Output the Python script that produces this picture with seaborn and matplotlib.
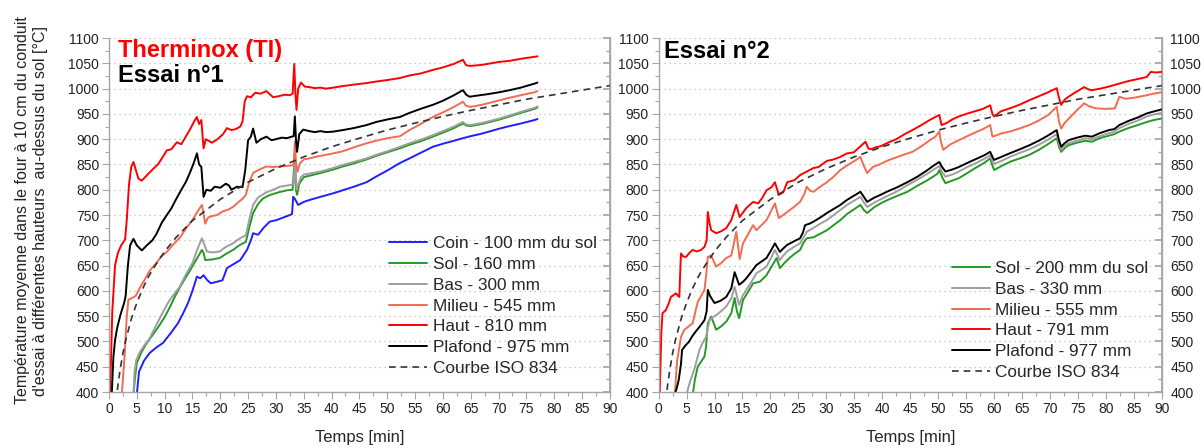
import numpy as np
import pandas as pd
import matplotlib
matplotlib.use("Agg")
import matplotlib.pyplot as plt
from matplotlib.ticker import MultipleLocator
import seaborn as sns

# ---------------- Essai n°1 (left panel) ----------------
t_coin1 = [5, 5.4, 6.3, 7.3, 8.5, 9.7, 11, 12.4, 13.3, 14.2,
           15, 15.8, 16.4, 17, 17.6, 18.3, 19.4, 20.4, 21.2, 22.4,
           23.6, 24.8, 25.5, 25.9, 26.8, 27.8, 28.9, 30.1, 31.3, 32.5,
           32.9, 33.1, 33.4, 34, 35, 36.1, 38, 40.3, 42, 44,
           46.3, 48, 50, 52.3, 54, 56, 58.2, 60, 62, 63.6,
           65, 67, 70.2, 72, 74, 76.5, 77]
T_coin1 = [395, 440, 462, 477, 488, 497, 515, 536, 555, 576,
           600, 628, 625, 631, 622, 615, 618, 621, 645, 653,
           661, 681, 700, 714, 711, 725, 737, 740, 745, 750,
           752, 786, 782, 770, 776, 780, 786, 793, 799, 806,
           815, 826, 838, 853, 862, 873, 885, 891, 897, 902,
           906, 911, 921, 926, 931, 938, 940]

t_sol1 = [4.4, 4.7, 5, 5.8, 6.8, 7.8, 8.9, 10, 11, 11.9,
          12.8, 13.7, 14.6, 15.6, 16.7, 17.0, 17.3, 18.5, 19.9, 21,
          22.3, 23.4, 24.6, 25.2, 25.9, 26.8, 27.7, 29, 30.5, 32,
          33, 33.4, 33.6, 33.8, 34.2, 35, 36.5, 38, 40.3, 42,
          44, 46.3, 48, 50, 52.3, 54, 56, 58.2, 60, 62,
          63.6, 64.2, 65, 67, 70.2, 72, 74, 76.5, 77]
T_sol1 = [395, 430, 457, 478, 497, 512, 529, 548, 569, 590,
          608, 625, 641, 660, 681, 675, 661, 662, 665, 673,
          681, 690, 697, 725, 754, 772, 783, 790, 795, 799,
          800, 870, 800, 790, 812, 825, 829, 833, 840, 846,
          852, 860, 867, 874, 882, 889, 896, 905, 913, 922,
          931, 927, 926, 930, 939, 945, 952, 960, 963]

t_bas1 = [4.4, 4.6, 4.9, 5.5, 6.4, 7.3, 8.4, 9.6, 10.8, 11.8,
          12.7, 13.8, 15, 15.8, 16.7, 17.2, 17.6, 18.6, 19.9, 21,
          22.3, 23.4, 24.6, 25.3, 25.9, 26.8, 28.3, 29.5, 30.7, 31.8,
          32.8, 33.2, 33.45, 33.7, 34, 34.5, 35, 36.5, 38, 40.3,
          42, 44, 46.3, 48, 50, 52.3, 54, 56, 58.2, 60,
          62, 63.6, 64.2, 65, 67, 70.2, 72, 74, 76.5, 77]
T_bas1 = [395, 440, 463, 478, 493, 506, 530, 556, 580, 595,
          608, 632, 655, 680, 704, 690, 678, 676, 678, 687,
          694, 703, 710, 745, 770, 785, 795, 800, 806, 808,
          810, 812, 870, 800, 810, 825, 830, 833, 836, 843,
          849, 855, 862, 869, 876, 885, 892, 899, 908, 916,
          925, 934, 929, 928, 932, 941, 947, 954, 962, 965]

t_mil1 = [2.3, 2.8, 3.2, 3.5, 4.0, 4.8, 5.5, 6.3, 7.4, 8.5,
          9.4, 10.4, 11.4, 12.8, 13.5, 14, 15, 15.8, 16.4, 16.7,
          17.0, 17.3, 17.8, 18.5, 19.4, 20.4, 21.3, 22.3, 23.2, 24,
          24.6, 25.2, 25.9, 27, 28.3, 29.5, 30.7, 31.8, 32.8, 33.2,
          33.4, 33.6, 33.9, 34.3, 35, 36, 37.5, 39, 40.3, 42,
          44, 46.3, 48, 50, 52.3, 54, 56, 58.2, 60, 62,
          63.6, 64.2, 65, 67, 70.2, 72, 74, 76.5, 77]
T_mil1 = [395, 470, 550, 583, 585, 590, 605, 620, 641, 655,
          668, 677, 690, 706, 718, 726, 740, 755, 765, 770,
          752, 733, 745, 748, 750, 757, 760, 766, 775, 782,
          790, 815, 833, 840, 846, 845, 846, 847, 848, 850,
          895, 855, 836, 852, 860, 862, 866, 869, 872, 876,
          884, 892, 897, 902, 906, 918, 930, 944, 953, 964,
          974, 966, 964, 968, 977, 982, 987, 993, 995]

t_haut1 = [0.2, 0.6, 1.1, 1.6, 2.2, 2.9, 3.2, 3.6, 4.0, 4.4,
           4.8, 5.3, 5.9, 6.5, 7.2, 8, 8.8, 9.5, 10.4, 11.2,
           12.2, 13, 13.8, 14.6, 15.3, 15.8, 16.2, 16.6, 17.0, 17.4,
           18.5, 19.5, 20.5, 21.2, 22, 22.8, 23.6, 24.0, 24.4, 24.8,
           25.5, 26.3, 27.2, 28.3, 29.5, 30.5, 31.5, 32.5, 33.0, 33.3,
           33.5, 33.7, 34.0, 34.5, 35.2, 36, 37, 38, 39, 40.3,
           42, 44, 46.3, 48, 50, 52.3, 54, 56, 58.2, 60,
           62, 63.6, 64.2, 65, 67, 70.2, 72, 74, 76.5, 77]
T_haut1 = [395, 560, 651, 675, 690, 702, 740, 810, 845, 855,
           840, 822, 818, 825, 833, 842, 850, 862, 878, 880,
           894, 890, 905, 920, 935, 944, 930, 938, 882, 900,
           893, 900, 910, 922, 918, 920, 925, 935, 975, 985,
           983, 992, 990, 995, 983, 985, 988, 987, 990, 1049,
           990, 958, 1000, 1012, 1004, 1003, 1001, 1002, 1000, 1002,
           1005, 1008, 1011, 1014, 1017, 1021, 1026, 1030, 1037, 1042,
           1049, 1057, 1046, 1045, 1047, 1053, 1055, 1059, 1063, 1064]

t_plaf1 = [0.5, 0.8, 1.1, 1.5, 2.0, 2.4, 2.7, 3.0, 3.4, 3.8,
           4.4, 5.0, 5.9, 6.8, 7.8, 8.5, 9.5, 10.4, 11.2, 12,
           13, 13.8, 14.6, 15.3, 15.8, 16.2, 16.6, 17.0, 17.5, 18.3,
           19, 20, 21, 21.6, 22, 23, 24, 24.5, 25, 25.5,
           25.9, 26.5, 27.3, 28.3, 29.2, 30, 31, 32, 32.8, 33.2,
           33.4, 33.6, 33.8, 34.2, 34.9, 36, 37, 38, 39, 40.3,
           42, 44, 46.3, 48, 50, 52.3, 54, 56, 58.2, 60,
           62, 63.6, 64.2, 64.8, 66, 68, 70.2, 72, 74, 76.5, 77]
T_plaf1 = [395, 470, 503, 528, 550, 565, 575, 590, 650, 690,
           703, 690, 680, 690, 700, 712, 735, 750, 763, 780,
           800, 815, 835, 855, 872, 850, 845, 786, 800, 798,
           806, 804, 812, 808, 800, 806, 805, 840, 898, 905,
           921, 893, 900, 905, 898, 900, 903, 902, 905, 906,
           945, 900, 875, 910, 919, 916, 914, 916, 914, 915,
           918, 922, 928, 934, 939, 944, 952, 960, 968, 976,
           987, 997, 988, 984, 986, 989, 993, 997, 1002, 1010, 1012]

# ---------------- Essai n°2 (right panel) ----------------
t_sol2 = [6.1, 6.5, 7, 7.6, 8.2, 8.5, 8.8, 9.4, 9.9, 10.3,
          11.2, 12.1, 13, 13.6, 14.0, 14.4, 15.1, 16, 16.9, 18.1,
          19.3, 20.2, 21.1, 21.7, 22.5, 23.5, 24.4, 25.3, 25.9, 26.5,
          27.7, 28.9, 30.1, 31.3, 32.5, 33.7, 34.9, 36.1, 36.7, 37.3,
          38.5, 39.7, 41, 42.5, 44.5, 46.3, 48.1, 49.1, 49.9, 50.2,
          50.7, 51.3, 52.5, 53.7, 55.2, 56.8, 58.2, 59.3, 59.7, 60,
          61.5, 63, 64.6, 66.3, 68, 69.6, 71.2, 71.6, 72, 72.6,
          73.3, 74.8, 76.3, 77.5, 78.9, 80.5, 81.5, 82.4, 84, 85.7,
          87.3, 88.6, 90]
T_sol2 = [395, 425, 450, 460, 470, 490, 536, 549, 535, 523,
          530, 539, 556, 586, 560, 546, 582, 598, 615, 618,
          631, 648, 665, 645, 655, 666, 674, 681, 695, 704,
          706, 713, 720, 730, 740, 752, 761, 770, 760, 754,
          765, 773, 780, 787, 796, 808, 819, 826, 832, 839,
          825, 813, 818, 823, 833, 844, 853, 862, 848, 839,
          848, 856, 862, 869, 879, 890, 902, 885, 875, 882,
          888, 893, 897, 895, 902, 907, 910, 915, 922, 928,
          934, 938, 941]

t_bas2 = [5.0, 5.6, 6.4, 7.3, 8.0, 8.5, 9.1, 9.7, 10.3, 11.2,
          12.1, 13, 13.6, 14.4, 15, 15.7, 16.6, 17.5, 18.4, 19.3,
          20.1, 20.8, 21.7, 22.3, 23, 24.2, 25.3, 25.9, 26.5, 27.3,
          28.2, 29.1, 30.1, 31.3, 32.5, 33.7, 34.9, 36.1, 36.7, 37.3,
          38.5, 39.7, 41, 42.5, 44.5, 46.3, 48.1, 49.2, 50.2, 50.7,
          51.3, 52.5, 53.7, 55.2, 56.8, 58.2, 59.3, 59.7, 60, 61.5,
          63, 64.6, 66.3, 68, 69.6, 71.2, 71.6, 72, 72.6, 73.3,
          74.8, 76.3, 77.5, 78.9, 80.5, 81.5, 82.4, 84, 85.7, 87.3,
          88.6, 90]
T_bas2 = [395, 420, 445, 483, 500, 509, 542, 548, 552, 560,
          569, 585, 608, 572, 590, 602, 618, 635, 641, 648,
          665, 681, 661, 670, 678, 687, 694, 705, 717, 722,
          728, 734, 740, 750, 760, 770, 778, 786, 775, 766,
          774, 781, 788, 796, 809, 820, 832, 840, 847, 835,
          826, 830, 836, 845, 853, 861, 868, 857, 851, 858,
          866, 873, 880, 889, 899, 910, 890, 879, 886, 892,
          897, 902, 900, 906, 912, 915, 922, 930, 937, 945,
          949, 952]

t_mil2 = [2.9, 3.3, 4, 4.6, 5.4, 6.1, 6.6, 7, 7.6, 8.2,
          8.5, 8.8, 9.4, 9.8, 10.3, 11.2, 12.1, 13, 13.9, 14.5,
          15.1, 16, 16.9, 17.5, 18.4, 19.3, 20.2, 20.8, 21.5, 22.3,
          23, 24.2, 25.3, 26, 26.5, 27.1, 27.7, 28.9, 30.1, 31.3,
          32.5, 33.7, 34.9, 36.1, 36.6, 37.3, 38.3, 39.5, 41, 42.5,
          44, 45.4, 47, 48.5, 49.5, 50.2, 50.5, 50.9, 52.2, 53.7,
          55.2, 56.8, 58.2, 59.3, 59.7, 60.5, 61.5, 62.8, 64.5, 66.3,
          68, 69.7, 71.2, 71.6, 72, 72.6, 73.3, 74.6, 76.1, 77,
          78.2, 80, 81.6, 82.4, 83.5, 85, 87.3, 88.5, 90]
T_mil2 = [395, 460, 509, 523, 530, 536, 560, 578, 590, 602,
          630, 667, 670, 660, 648, 655, 665, 670, 717, 663,
          694, 712, 730, 720, 730, 740, 760, 773, 744, 750,
          756, 766, 776, 790, 806, 798, 796, 806, 815, 826,
          839, 848, 856, 865, 850, 833, 845, 850, 858, 864,
          870, 875, 886, 898, 905, 915, 895, 879, 890, 898,
          906, 914, 921, 928, 905, 908, 912, 915, 921, 928,
          937, 948, 964, 935, 921, 932, 940, 955, 971, 965,
          961, 960, 961, 984, 980, 982, 987, 990, 993]

t_haut2 = [0.2, 0.5, 0.7, 1.3, 1.8, 2.2, 2.7, 3.1, 3.5, 3.7,
           4.0, 4.4, 4.9, 5.5, 6.1, 6.8, 7.6, 8.2, 8.6, 8.8,
           9.1, 9.4, 10.3, 11.2, 12.1, 13, 13.9, 14.5, 15.1, 15.7,
           16.9, 17.8, 18.6, 19.3, 20.2, 20.8, 21.5, 22.3, 23, 24.3,
           25.3, 26.5, 27.7, 28.6, 30.1, 31.3, 32.5, 33.7, 34.9, 36,
           37, 37.5, 38, 38.8, 39.7, 41, 42.5, 44, 45.4, 47,
           48.5, 50.2, 50.6, 51.5, 52.5, 53.7, 55, 56.5, 58, 59.3,
           59.7, 60, 61.2, 62.8, 64.5, 66.3, 68, 69.5, 71.2, 71.6,
           72, 72.6, 73.3, 74.6, 76.1, 77, 77.5, 79, 80.5, 82.4,
           84, 85.7, 87.3, 88, 89, 90]
T_haut2 = [395, 520, 556, 562, 575, 588, 592, 595, 590, 588,
           674, 668, 667, 675, 681, 678, 681, 687, 700, 756,
           735, 720, 714, 718, 724, 740, 770, 746, 755, 764,
           776, 773, 785, 799, 805, 815, 790, 795, 815, 819,
           829, 836, 843, 845, 857, 860, 865, 872, 874, 885,
           895, 882, 880, 884, 886, 893, 900, 910, 918, 928,
           938, 948, 928, 932, 939, 945, 950, 955, 960, 967,
           950, 945, 955, 961, 968, 977, 985, 992, 1001, 982,
           968, 978, 984, 993, 1003, 998, 997, 1000, 1004, 1010,
           1015, 1019, 1023, 1033, 1032, 1033]

t_plaf2 = [2.9, 3.3, 3.6, 4.0, 4.2, 4.8, 5.4, 6, 6.6, 7.4,
           8.2, 8.6, 8.8, 9.2, 10, 11, 12.1, 13, 13.6, 14.4,
           15.1, 15.7, 16.6, 17.5, 18.4, 19.3, 20.1, 20.8, 21.7, 22.3,
           23, 24.2, 25.3, 25.8, 26.2, 27, 27.7, 28.9, 30.1, 31.3,
           32.5, 33.7, 34.9, 36.1, 36.7, 37.3, 38.5, 39.7, 41, 42.5,
           44.5, 46.3, 48.1, 49.2, 50.2, 50.7, 51.3, 52.5, 53.7, 55.2,
           56.8, 58.2, 59.3, 59.7, 60, 61.5, 63, 64.6, 66.3, 68,
           69.6, 71.2, 71.6, 72, 72.6, 73.3, 74.8, 76.3, 77.5, 78.9,
           80.5, 81.5, 82.4, 84, 85.7, 87.3, 88.6, 90]
T_plaf2 = [395, 410, 424, 455, 483, 492, 499, 510, 519, 530,
           542, 560, 602, 590, 576, 580, 588, 605, 637, 612,
           618, 625, 638, 651, 658, 665, 680, 694, 677, 684,
           691, 698, 704, 715, 730, 733, 737, 745, 754, 762,
           770, 780, 788, 796, 786, 776, 784, 790, 797, 804,
           815, 826, 839, 848, 855, 845, 836, 840, 845, 853,
           861, 868, 875, 865, 859, 866, 873, 880, 888, 897,
           907, 918, 898, 885, 892, 898, 903, 907, 905, 912,
           918, 920, 928, 936, 943, 951, 955, 959]

# ISO 834 standard curve
t_iso = [1.5, 2, 2.5, 3, 4, 5, 6, 7, 8, 10,
         12, 15, 20, 25, 30, 35, 40, 45, 50, 55,
         60, 65, 70, 75, 80, 85, 90]
T_iso = [404, 444, 476, 502, 544, 576, 603, 626, 645, 678,
         705, 739, 781, 815, 842, 865, 885, 902, 918, 932,
         945, 957, 968, 979, 988, 997, 1006]

series1 = [
    ("Coin - 100 mm du sol", t_coin1, T_coin1, "#1f1fff"),
    ("Sol - 160 mm", t_sol1, T_sol1, "#249a24"),
    ("Bas - 300 mm", t_bas1, T_bas1, "#9e9e9e"),
    ("Milieu - 545 mm", t_mil1, T_mil1, "#f36b50"),
    ("Haut - 810 mm", t_haut1, T_haut1, "#ff0000"),
    ("Plafond - 975 mm", t_plaf1, T_plaf1, "#000000"),
]
series2 = [
    ("Sol - 200 mm du sol", t_sol2, T_sol2, "#249a24"),
    ("Bas - 330 mm", t_bas2, T_bas2, "#9e9e9e"),
    ("Milieu - 555 mm", t_mil2, T_mil2, "#f36b50"),
    ("Haut - 791 mm", t_haut2, T_haut2, "#ff0000"),
    ("Plafond - 977 mm", t_plaf2, T_plaf2, "#000000"),
]

sns.set_theme(style="white")
plt.rcParams['font.family'] = ['Liberation Sans', 'DejaVu Sans']

fig = plt.figure(figsize=(12.04, 4.48), dpi=100)
ax1 = fig.add_axes([0.0905, 0.125, 0.416, 0.790])
ax2 = fig.add_axes([0.547, 0.125, 0.418, 0.790])

spine_col = "#a6a6a6"


def draw_panel(ax, series, show_right_labels):
    for name, t, T, col in series:
        df = pd.DataFrame({"t": t, "T": T})
        sns.lineplot(data=df, x="t", y="T", ax=ax, color=col, lw=1.4,
                     label=name, estimator=None, sort=False)
    iso = pd.DataFrame({"t": t_iso, "T": T_iso})
    sns.lineplot(data=iso, x="t", y="T", ax=ax, color="#333333", lw=1.2,
                 label="Courbe ISO 834", estimator=None, sort=False,
                 linestyle=(0, (4, 3)))
    ax.set_xlim(0, 90)
    ax.set_ylim(400, 1100)
    ax.xaxis.set_major_locator(MultipleLocator(5))
    ax.xaxis.set_minor_locator(MultipleLocator(2.5))
    ax.yaxis.set_major_locator(MultipleLocator(50))
    ax.yaxis.set_minor_locator(MultipleLocator(25))
    for y in range(450, 1101, 50):
        ax.axhline(y, color="#bdbdbd", lw=0.9, ls=(0, (1, 3)), zorder=0)
    ax.tick_params(axis="both", which="both", direction="out",
                   color=spine_col, labelsize=10, pad=2, labelcolor="#222222")
    ax.tick_params(which="major", length=5, width=0.8)
    ax.tick_params(which="minor", length=3, width=0.8)
    ax.tick_params(axis="x", bottom=True, which="both")
    ax.tick_params(axis="y", left=True, which="both")
    for s in ["left", "bottom", "right"]:
        ax.spines[s].set_color(spine_col)
        ax.spines[s].set_linewidth(1.0)
    ax.spines["top"].set_visible(False)
    sec = ax.secondary_yaxis("right")
    sec.yaxis.set_major_locator(MultipleLocator(50))
    sec.yaxis.set_minor_locator(MultipleLocator(25))
    sec.tick_params(which="both", direction="in", color=spine_col,
                    labelsize=10, labelcolor="#222222", pad=6)
    sec.tick_params(which="major", length=5)
    sec.tick_params(which="minor", length=3)
    sec.spines["right"].set_color(spine_col)
    if not show_right_labels:
        sec.set_yticklabels([])
    ax.set_xlabel("Temps [min]", fontsize=12, labelpad=10)
    ax.set_ylabel("")


draw_panel(ax1, series1, False)
draw_panel(ax2, series2, True)

leg1 = ax1.legend(loc="upper left", bbox_to_anchor=(0.56, 0.44), frameon=False,
                  fontsize=12.4, handlelength=2.2, handletextpad=0.3,
                  labelspacing=0.33, borderpad=0, borderaxespad=0)
leg2 = ax2.legend(loc="upper left", bbox_to_anchor=(0.583, 0.37), frameon=False,
                  fontsize=12.4, handlelength=2.2, handletextpad=0.3,
                  labelspacing=0.33, borderpad=0, borderaxespad=0)

ax1.text(0.018, 0.965, "Therminox (TI)", transform=ax1.transAxes, color="#ff0000",
         fontsize=17, fontweight="bold", va="center", ha="left")
ax1.text(0.018, 0.895, "Essai n°1", transform=ax1.transAxes, color="#000000",
         fontsize=17, fontweight="bold", va="center", ha="left")
ax2.text(0.01, 0.962, "Essai n°2", transform=ax2.transAxes, color="#000000",
         fontsize=17, fontweight="bold", va="center", ha="left")

fig.text(0.026, 0.53, "Température moyenne dans le four à 10 cm du conduit\n"
         "d'essai à différentes hauteurs  au-dessus du sol [°C]",
         rotation=90, ha="center", va="center", fontsize=11.5, linespacing=1.3,
         color="#222222")

fig.savefig("out.png", dpi=100)
